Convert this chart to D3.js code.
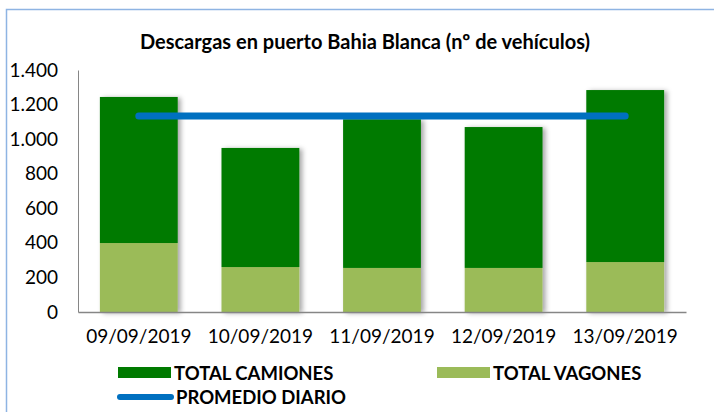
<!DOCTYPE html>
<html>
<head>
<meta charset="utf-8">
<script src="https://cdn.jsdelivr.net/npm/d3@7"></script>
<style>
  html, body { margin: 0; padding: 0; background: #fff; }
  svg { display: block; }
  text { font-family: Lato, "Liberation Sans", sans-serif; fill: #000; }
</style>
</head>
<body>
<svg id="chart" width="714" height="412"></svg>
<script>
const categories = ["09/09/2019", "10/09/2019", "11/09/2019", "12/09/2019", "13/09/2019"];
const vagones = [399, 260, 255, 255, 289];
const camiones = [845, 689, 860, 815, 995];
const promedio = [1134, 1134, 1134, 1134, 1134];
const yTicks = [0, 200, 400, 600, 800, 1000, 1200, 1400];
const title = "Descargas en puerto Bahia Blanca (nº de vehículos)";
const legendLabels = ["TOTAL CAMIONES", "TOTAL VAGONES", "PROMEDIO DIARIO"];

const colors = { camiones: "#007A00", vagones: "#9BBB59", promedio: "#0070C0" };
const FONT = "Lato, 'Liberation Sans', sans-serif";

const svg = d3.select("#chart");
const W = 714, H = 412;
const m = { left: 78, right: 28, top: 70, bottom: 100 };

// outer frame
svg.append("rect").attr("x", 6.5).attr("y", 9.5).attr("width", W + 10).attr("height", H + 10)
  .attr("fill", "#fff").attr("stroke", "#8EB4E3").attr("stroke-width", 1.5);

const defs = svg.append("defs");
const f = defs.append("filter").attr("id", "shadow").attr("x", "-20%").attr("y", "-10%").attr("width", "150%").attr("height", "120%");
f.append("feDropShadow").attr("dx", 3).attr("dy", 1).attr("stdDeviation", 2.5).attr("flood-color", "#000").attr("flood-opacity", 0.35);

const x = d3.scaleBand().domain(categories).range([m.left, 686]).paddingInner(0.36).paddingOuter(0.18);
const y = d3.scaleLinear().domain([0, 1400]).range([312, 70]);

svg.append("text").attr("x", 365).attr("y", 49).attr("text-anchor", "middle")
  .attr("font-weight", "bold").attr("font-size", 20).style("font-family", FONT).text(title);

// y axis
const yAxis = d3.axisLeft(y).tickValues(yTicks).tickSize(0).tickPadding(20)
  .tickFormat(d => d3.format(",")(d).replace(/,/g, "."));
const gy = svg.append("g").attr("transform", `translate(${m.left},0)`).call(yAxis);
gy.select(".domain").attr("stroke", "#868686").attr("stroke-width", 1);
gy.selectAll("text").attr("font-size", 19).style("font-family", FONT);

// bars
const stack = categories.map((c, i) => ({ c, v: vagones[i], t: camiones[i] }));
const bars = svg.append("g").attr("filter", "url(#shadow)");
bars.selectAll("rect.v").data(stack).join("rect").attr("class", "v")
  .attr("x", d => x(d.c)).attr("width", x.bandwidth())
  .attr("y", d => y(d.v)).attr("height", d => y(0) - y(d.v)).attr("fill", colors.vagones);
bars.selectAll("rect.t").data(stack).join("rect").attr("class", "t")
  .attr("x", d => x(d.c)).attr("width", x.bandwidth())
  .attr("y", d => y(d.v + d.t)).attr("height", d => y(d.v) - y(d.v + d.t)).attr("fill", colors.camiones);

// x axis
const xAxis = d3.axisBottom(x).tickSize(0).tickPadding(18);
const gx = svg.append("g").attr("transform", `translate(0,${y(0)})`).call(xAxis);
gx.select(".domain").attr("stroke", "#868686").attr("stroke-width", 1.5);
gx.selectAll("text").attr("font-size", 19).style("font-family", FONT);

// average line
const line = d3.line().x((d, i) => x(categories[i]) + x.bandwidth() / 2).y(d => y(d));
svg.append("path").datum(promedio).attr("d", line).attr("fill", "none")
  .attr("stroke", colors.promedio).attr("stroke-width", 7).attr("stroke-linecap", "round");

// legend
const lg = svg.append("g").style("font-family", FONT);
lg.append("rect").attr("x", 118).attr("y", 367).attr("width", 53).attr("height", 11).attr("fill", colors.camiones);
lg.append("text").attr("x", 174).attr("y", 380).attr("font-weight", "bold").attr("font-size", 18.5).text(legendLabels[0]);
lg.append("rect").attr("x", 437).attr("y", 367).attr("width", 53).attr("height", 11).attr("fill", colors.vagones);
lg.append("text").attr("x", 493).attr("y", 380).attr("font-weight", "bold").attr("font-size", 18.5).text(legendLabels[1]);
lg.append("line").attr("x1", 120).attr("x2", 171).attr("y1", 397).attr("y2", 397)
  .attr("stroke", colors.promedio).attr("stroke-width", 6).attr("stroke-linecap", "round");
lg.append("text").attr("x", 176).attr("y", 404).attr("font-weight", "bold").attr("font-size", 18.5).text(legendLabels[2]);
</script>
</body>
</html>
